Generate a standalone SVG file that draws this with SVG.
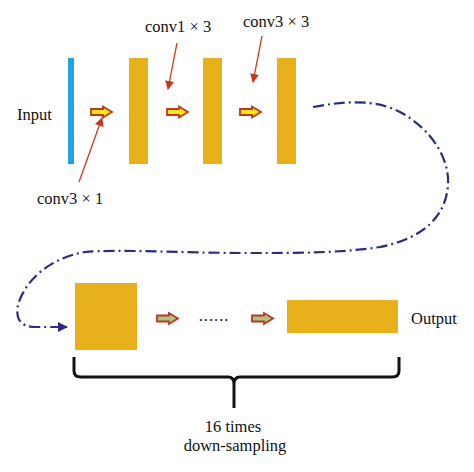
<svg xmlns="http://www.w3.org/2000/svg" width="474" height="472" viewBox="0 0 474 472">
<defs>
<style>
.t{font-family:"Liberation Serif","Times New Roman",serif;font-size:16.5px;fill:#111}
.bar{fill:#E8B11C}
.ya{fill:#FFE81A;stroke:#C0361C;stroke-width:1.8;stroke-linejoin:miter}
.ga{fill:#A9C487;stroke:#C0361C;stroke-width:1.8;stroke-linejoin:miter}
.ptr{stroke:#C8381E;stroke-width:1.3;fill:none}
.flow{stroke:#2E2C82;stroke-width:2.2;fill:none;stroke-dasharray:11 4 2 4}
.brace{stroke:#111;stroke-width:3;fill:none}
</style>
<marker id="redhead" viewBox="0 0 10 10" refX="9" refY="5" markerWidth="9" markerHeight="9" markerUnits="userSpaceOnUse" orient="auto"><path d="M0,0 L10,5 L0,10 z" fill="#C8381E"/></marker>
<marker id="bluehead" viewBox="0 0 10 10" refX="9" refY="5" markerWidth="10" markerHeight="10" markerUnits="userSpaceOnUse" orient="auto"><path d="M0,0 L10,5 L0,10 z" fill="#2E2C82"/></marker>
<path id="arr" d="M0,-3 L12,-3 L12,-5.5 L21,0 L12,5.5 L12,3 L0,3 z"/>
</defs>
<rect width="474" height="472" fill="#fff"/>
<g id="input"><rect x="68" y="58" width="6" height="106" fill="#1FA6E0"/><text class="t" x="17" y="120">Input</text></g>
<g id="layer1"><rect class="bar" x="129" y="58" width="19" height="106"/></g>
<g id="layer2"><rect class="bar" x="203" y="58" width="19" height="106"/></g>
<g id="layer3"><rect class="bar" x="277" y="58" width="19" height="106"/></g>
<g id="block1"><rect class="bar" x="75" y="283" width="62" height="67"/></g>
<g id="block2"><rect class="bar" x="287" y="300" width="111" height="33"/><text class="t" x="411" y="324">Output</text></g>
<g id="labels">
<text class="t" x="145" y="32">conv1 × 3</text>
<text class="t" x="243" y="27">conv3 × 3</text>
<text class="t" x="37" y="204">conv3 × 1</text>
<text class="t" x="233" y="432" text-anchor="middle">16 times</text>
<text class="t" x="235" y="451" text-anchor="middle">down-sampling</text>
<text class="t" x="214" y="321" text-anchor="middle" letter-spacing="1">......</text>
</g>
<g id="connectors">
<use href="#arr" class="ya" x="91" y="112"/>
<use href="#arr" class="ya" x="167" y="112"/>
<use href="#arr" class="ya" x="240" y="112"/>
<use href="#arr" class="ga" x="157" y="318.5"/>
<use href="#arr" class="ga" x="252" y="318.5"/>
<line class="ptr" x1="177" y1="43" x2="168" y2="89" marker-end="url(#redhead)"/>
<line class="ptr" x1="262" y1="36" x2="253" y2="82" marker-end="url(#redhead)"/>
<line class="ptr" x1="79" y1="182" x2="102" y2="118" marker-end="url(#redhead)"/>
<path class="flow" d="M313,107 C345,101 375,99 400,112 C430,128 450,158 448,185 C446,215 425,238 380,247 C340,253 300,253 250,253 C180,253 120,249 85,252 C50,258 25,280 18,305 C15,320 22,327 35,327 L67,327" marker-end="url(#bluehead)"/>
<path class="brace" d="M74,357 L74,371 Q74,377 81,377 L228,377 Q234,377 234,384 L234,408 M234,384 Q234,377 240,377 L392,377 Q399,377 399,371 L399,357"/>
</g>
</svg>
